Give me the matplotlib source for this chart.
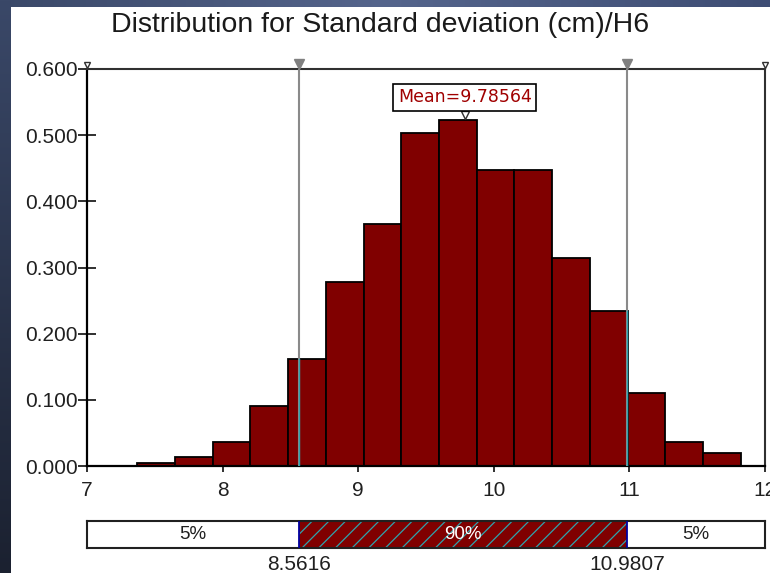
import numpy as np
import matplotlib
matplotlib.use("Agg")
import matplotlib.pyplot as plt
from matplotlib.patches import Rectangle

# histogram of the simulated std deviation (density per bin)
bin_lo, bin_hi = 7.370, 11.820
heights = [0.004, 0.014, 0.037, 0.090, 0.162, 0.278, 0.365, 0.503,
           0.523, 0.447, 0.447, 0.315, 0.234, 0.111, 0.037, 0.019]
edges = np.linspace(bin_lo, bin_hi, len(heights) + 1)

mean_val = 9.78564
p_lo, p_hi = 8.5616, 10.9807
band_labels = ["5%", "90%", "5%"]
yticks = [0.0, 0.1, 0.2, 0.3, 0.4, 0.5, 0.6]
xticks = [7, 8, 9, 10, 11, 12]
title = "Distribution for Standard deviation (cm)/H6"

W, H = 770, 573
bar_red = "#800000"
teal = "#2fa3ad"
plt.rcParams["font.family"] = ["Liberation Sans", "DejaVu Sans"]
plt.rcParams["hatch.linewidth"] = 0.9

fig = plt.figure(figsize=(W / 100, H / 100), dpi=100)

# dark window frame on the left / top edge
bg = fig.add_axes([0, 0, 1, 1], zorder=-10)
img = np.ones((H, W, 3))
top_l = np.array([0x3a, 0x48, 0x68]) / 255
top_m = np.array([0x55, 0x65, 0x8c]) / 255
top_r = np.array([0x3e, 0x4d, 0x74]) / 255
xs = np.linspace(0, 1, W)[:, None]
top_row = np.where(xs < 0.5, top_l + (top_m - top_l) * xs * 2,
                   top_m + (top_r - top_m) * (xs - 0.5) * 2)
img[:7, :, :] = top_row[None, :, :]
ys = np.linspace(0, 1, H)[:, None]
left_top = np.array([0x3a, 0x48, 0x68]) / 255
left_bot = np.array([0x1b, 0x21, 0x30]) / 255
left_col = left_top + (left_bot - left_top) * ys
img[:, :11, :] = left_col[:, None, :]
bg.imshow(img, aspect="auto", interpolation="bilinear")
bg.axis("off")

# main histogram axes
x0, x1 = 87.1, 765.1
ax = fig.add_axes([x0 / W, 1 - 466 / H, (x1 - x0) / W, (466 - 69) / H])
ax.bar(edges[:-1], heights, width=np.diff(edges), align="edge",
       color=bar_red, edgecolor="black", linewidth=1.3, zorder=2)
ax.set_xlim(7, 12)
ax.set_ylim(0, 0.6)

for p in (p_lo, p_hi):
    ax.plot([p, p], [0, 0.6], color="#8a8a8a", lw=1.5, zorder=3)
    k = np.searchsorted(edges, p) - 1
    ax.plot([p, p], [0, heights[k]], color=teal, lw=1.0, zorder=3)
    ax.plot(p, 0.607, marker="v", ms=7, color="#808080", clip_on=False, zorder=5)
for p in (7, 12):
    ax.plot(p, 0.606, marker="v", ms=5, mfc="white", mec="#303030", mew=1,
            clip_on=False, zorder=5)

ax.plot(mean_val, 0.531, marker="v", ms=6, mfc="white", mec="#303030",
        mew=1, zorder=5)
ax.text(mean_val, 0.557, "Mean=%.5f" % mean_val, ha="center", va="center",
        fontsize=12.5, family="DejaVu Sans", color="#a00000", zorder=6,
        bbox=dict(boxstyle="square,pad=0.26", fc="white", ec="black", lw=1.2))

ax.set_yticks(yticks)
ax.set_yticklabels(["%.3f" % v for v in yticks])
ax.set_xticks(xticks)
ax.set_xticklabels([str(v) for v in xticks])
ax.tick_params(axis="y", direction="inout", length=13, width=1.3, pad=0,
               labelsize=15, colors="#202020")
ax.tick_params(axis="x", direction="out", length=4, width=1.3, pad=7,
               labelsize=15, colors="#202020")
for side in ("left", "bottom"):
    ax.spines[side].set_linewidth(1.6)
    ax.spines[side].set_color("black")
for side in ("top", "right"):
    ax.spines[side].set_linewidth(1.5)
    ax.spines[side].set_color("#303030")
ax.set_zorder(1)

fig.text(380 / W, 1 - 32 / H, title, ha="center", va="baseline", fontsize=20.5,
         color="#1a1a1a")

# percentile band below the chart
ax2 = fig.add_axes([x0 / W, 1 - 548 / H, (x1 - x0) / W, 27 / H])
ax2.set_xlim(7, 12)
ax2.set_ylim(0, 1)
spans = [(7, p_lo), (p_lo, p_hi), (p_hi, 12)]
for (a, b), lab in zip(spans, band_labels):
    mid = (a + b) / 2
    if lab == "90%":
        ax2.add_patch(Rectangle((a, 0), b - a, 1, facecolor=bar_red,
                                edgecolor=teal, lw=0, hatch="//"))
        ax2.text(mid, 0.5, lab, ha="center", va="center", fontsize=13.5,
                 color="white", zorder=4)
    else:
        ax2.text(mid, 0.5, lab, ha="center", va="center", fontsize=13.5,
                 color="#202020", zorder=4)
for p in (p_lo, p_hi):
    ax2.plot([p, p], [0, 1], color="#0000a0", lw=1.3, zorder=3)
    ax2.annotate("%g" % p, xy=(p, 0), xycoords=("data", "axes fraction"),
                 xytext=(0, -5), textcoords="offset points", ha="center",
                 va="top", fontsize=15, color="#202020", annotation_clip=False)
ax2.set_xticks([])
ax2.set_yticks([])
for s in ax2.spines.values():
    s.set_linewidth(1.5)
    s.set_color("#202020")

fig.savefig("out.png", dpi=100)
